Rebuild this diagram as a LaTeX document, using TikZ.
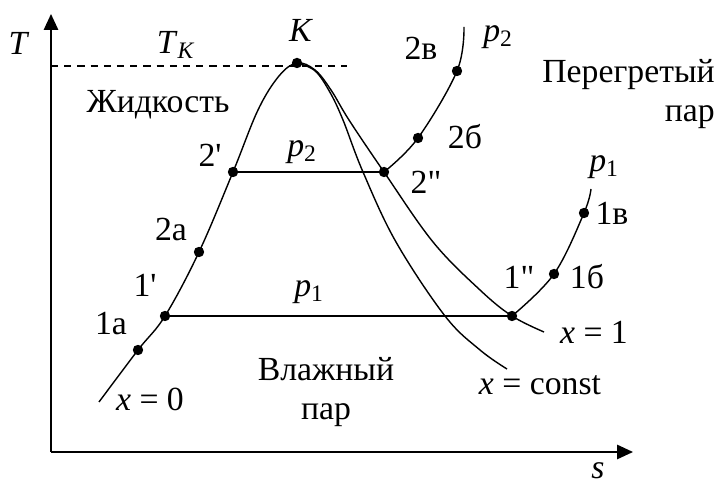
\documentclass[tikz,border=0pt]{standalone}
\usepackage{fontspec}
\setmainfont{Liberation Serif}
\usetikzlibrary{arrows.meta}
\tikzset{
  axis/.style={line width=1.2pt,-{Triangle[length=0.4cm,width=0.36cm]}},
  curve/.style={line width=1pt},
  tkline/.style={line width=1pt,dash pattern=on 0.18cm off 0.15cm},
  dot/.style={circle,fill,inner sep=0pt,minimum size=0.26cm},
  lbl/.style={inner sep=0pt,font=\fontsize{24}{28}\selectfont}
}
\begin{document}
\begin{tikzpicture}[every node/.style={lbl}]
\useasboundingbox (-1.275,-0.8) rectangle (16.7,11.3);
% axes
\coordinate (O) at (0,0);
\coordinate (Ttop) at (0,10.95);
\coordinate (sEnd) at (14.55,0);
\draw[axis] (O) -- (Ttop);
\draw[axis] (O) -- (sEnd);
% points
\coordinate (xzero) at (1.2,1.25);
\coordinate (a1) at (2.175,2.55);
\coordinate (s1L) at (2.85,3.4);
\coordinate (a2) at (3.7,5.0);
\coordinate (s2L) at (4.55,7.0);
\coordinate (K) at (6.15,9.725);
\coordinate (s2R) at (8.325,7.0);
\coordinate (b2) at (9.175,7.85);
\coordinate (v2) at (10.15,9.525);
\coordinate (p2end) at (10.325,10.625);
\coordinate (s1R) at (11.525,3.4);
\coordinate (b1) at (12.575,4.45);
\coordinate (v1) at (13.325,5.975);
\coordinate (p1end) at (13.5,6.575);
\coordinate (xone) at (12.325,3.0);
\coordinate (xconst) at (11.4,2.075);
\coordinate (TKaxis) at (0,9.65);
\coordinate (TKend) at (7.4,9.65);
% critical temperature
\draw[tkline] (TKaxis) -- (TKend);
% saturation lines x=0 and x=1
\draw[curve] plot[smooth,tension=0.6] coordinates {(xzero) (a1) (s1L) (a2) (s2L) (5.175,8.55) (5.7,9.4) (K)
  (6.6,9.55) (7.0,9.05) (7.45,8.3) (s2R) (9.55,5.25) (10.725,4.05) (s1R) (xone)};
% x=const
\draw[curve] plot[smooth,tension=0.6] coordinates {(K) (6.6,9.53) (6.97,9.0) (7.3,8.3) (7.8,7.0) (8.625,5.25) (9.85,3.4) (10.725,2.55) (xconst)};
% isobars
\draw[curve] (s1L) -- (s1R);
\draw[curve] (s2L) -- (s2R);
\draw[curve] plot[smooth,tension=0.6] coordinates {(s2R) (b2) (v2) (p2end)};
\draw[curve] plot[smooth,tension=0.6] coordinates {(s1R) (b1) (v1) (p1end)};
% dots
\foreach \p in {a1,s1L,a2,s2L,K,s2R,b2,v2,s1R,b1,v1}
  \node[dot] at (\p) {};
% labels
\node (Tlbl) at (-0.8,10.225) {\textit{T}};
\node (TKlbl) at (3.125,10.175) {\textit{T}\textsubscript{\textit{K}}};
\node (Klbl) at (6.25,10.55) {\textit{K}};
\node (liquid) at (2.675,8.675) {Жидкость};
\node (s2Llbl) at (3.975,7.425) {2\textquotesingle};
\node (p2mid) at (6.275,7.5) {\textit{p}\textsubscript{2}};
\node (s2Rlbl) at (9.375,6.75) {2\textquotedbl};
\node (b2lbl) at (10.35,7.875) {2б};
\node (v2lbl) at (9.25,10.1) {2в};
\node (p2top) at (11.175,10.375) {\textit{p}\textsubscript{2}};
\node[anchor=east,align=right] (vapour) at (16.6,8.95) {Перегретый\\пар};
\node (p1top) at (13.825,7.125) {\textit{p}\textsubscript{1}};
\node (v1lbl) at (14.025,5.975) {1в};
\node (b1lbl) at (13.4,4.375) {1б};
\node (s1Rlbl) at (11.7,4.375) {1\textquotedbl};
\node (xonelbl) at (13.575,3.0) {\textit{x} = 1};
\node (xconstlbl) at (12.225,1.675) {\textit{x} = const};
\node[align=center] (wet) at (6.875,1.5) {Влажный\\пар};
\node (xzerolbl) at (2.475,1.325) {\textit{x} = 0};
\node (s1Llbl) at (2.35,4.175) {1\textquotesingle};
\node (a1lbl) at (1.5,3.2) {1а};
\node (a2lbl) at (3.0,5.55) {2а};
\node (p1mid) at (6.45,4.0) {\textit{p}\textsubscript{1}};
\node (slbl) at (13.675,-0.47) {\textit{s}};
\end{tikzpicture}
\end{document}
